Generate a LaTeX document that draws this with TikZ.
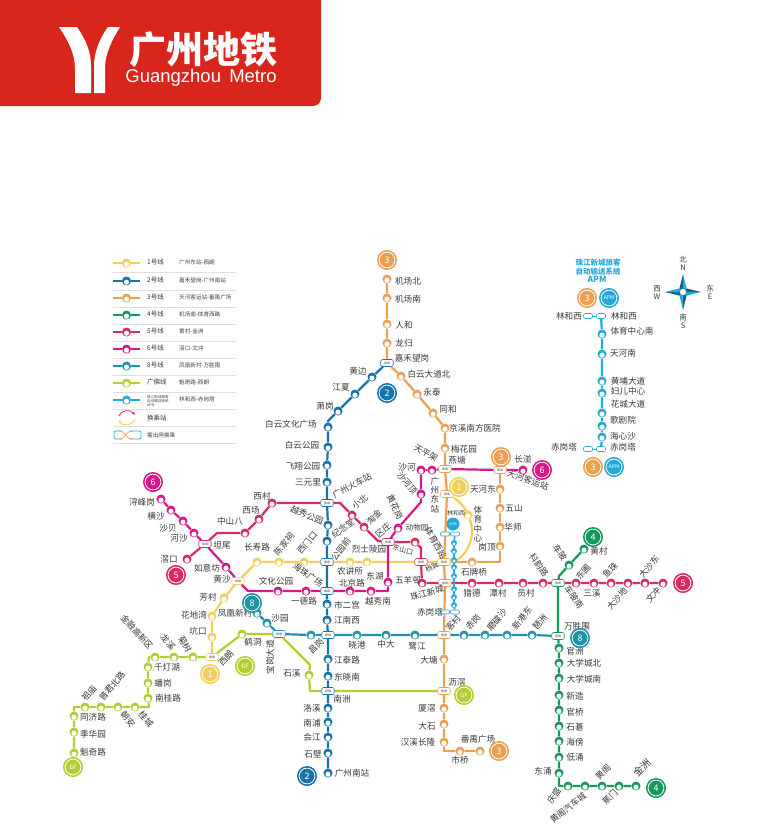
\documentclass[tikz,border=0pt]{standalone}
\usepackage{xcolor}
\usepackage{fontspec}
\setmainfont{Noto Sans CJK SC}
\newfontfamily\latinfont{Liberation Sans}
\usepackage{tikz}
\usetikzlibrary{arrows.meta}
\definecolor{hdred}{RGB}{217,38,28}
\definecolor{lineA}{RGB}{242,207,90}
\definecolor{lineB}{RGB}{21,116,168}
\definecolor{lineC}{RGB}{233,160,82}
\definecolor{lineD}{RGB}{20,154,90}
\definecolor{lineE}{RGB}{214,45,95}
\definecolor{lineF}{RGB}{217,22,138}
\definecolor{lineH}{RGB}{31,147,168}
\definecolor{lineG}{RGB}{181,204,53}
\definecolor{lineP}{RGB}{37,169,214}
\tikzset{
  sta/.style={circle,fill=#1,inner sep=0pt,minimum size=9pt,
    path picture={\fill[white] ([yshift=-1.2pt]path picture bounding box.center) circle (2.6pt);}},
  smallsta/.style={circle,fill=#1,inner sep=0pt,minimum size=6pt,
    path picture={\fill[white] ([yshift=-0.9pt]path picture bounding box.center) circle (1.5pt);}},
  trans/.style={rectangle,rounded corners=2pt,draw=#1,fill=white,line width=0.6pt,inner sep=0pt,
    minimum width=12.5pt,minimum height=7pt,font=\fontsize{3}{3}\selectfont,text=black!70},
  lab/.style={inner sep=0pt,align=center,text=black!78,font=\fontsize{8.6}{9.4}\selectfont},
  badge/.style={circle,fill=#1,inner sep=0pt,minimum size=20pt,text=white,font=\fontsize{9}{9}\selectfont,
    path picture={\draw[white,line width=0.8pt] (path picture bounding box.center) circle (7.9pt);}},
  metro/.style={draw=#1,line width=2.2pt,line join=round},
  legtitle/.style={anchor=west,inner sep=0pt,text=black!80,font=\fontsize{6.5}{7}\selectfont},
  legtext/.style={anchor=west,inner sep=0pt,align=left,text=black!75,font=\fontsize{5.6}{6.6}\selectfont},
  legrule/.style={draw=black!12,line width=0.4pt},
}
% stations of one line: name/x/y/label x/label y/rotation/label
\newcommand{\linestations}[2]{%
  \foreach \id/\x/\y/\tx/\ty/\rot/\txt in {#2} {
    \node[sta=#1] (\id) at (\x,\y) {};
    \node[lab,rotate=\rot] (t\id) at (\tx,\ty) {\txt};
  }}
\begin{document}
\begin{tikzpicture}[x=1pt,y=-1pt]
  \useasboundingbox (0,0) rectangle (775,836);

  % header
  \fill[hdred] (0,0) -- (321,0) {[rounded corners=8pt] -- (321,106)} -- (0,106) -- cycle;
  \fill[white] (59,27) -- (77,27) .. controls (86,40) and (91,52) .. (91,66) -- (91,93) -- (75,93) -- (75,68) .. controls (75,54) and (68,40) .. (59,27) -- cycle;
  \fill[white] (120,27) -- (108,27) .. controls (100,38) and (94,52) .. (94,66) -- (94,93) -- (105,93) -- (105,68) .. controls (105,54) and (112,40) .. (120,27) -- cycle;
  \node[text=white,inner sep=0pt,font=\fontsize{37}{37}\selectfont\bfseries] (title) at (203,50) {广州地铁};
  \node[text=white,inner sep=0pt,font=\latinfont\fontsize{18.5}{18.5}\selectfont] (subtitle) at (201,78) {Guangzhou\, Metro};

  % interchange stations: name/x/y/colour/label x/label y/rotation/label
  \node[trans=lineH] (szb) at (279,634) {换乘};
  \foreach \id/\x/\y/\c/\tx/\ty/\rot/\txt in {
    jhwg/387/363/lineB/412/358/0/嘉禾望岗,
    gzhc/327/503/lineB/352/486/28/广州火车站,
    gyq/327/562/lineB/341/549/52/公园前,
    hzgc/327/591/lineB/308/575/-35/海珠广场,
    cgang/328/635/lineB/316/646/45/昌岗,
    nzhou/328/691/lineB/342/699/0/南洲,
    hsha/238/581/lineA/222/579/0/黄沙,
    twei/205/544/lineE/222/545/0/坦尾,
    xlang/212/657/lineA/226/658/48/西朗,
    yji/421/562/lineE/432/567/25/{\fontsize{7}{8}\selectfont 杨箕},
    tyxl/444/562/lineC/436/543/-60/体育西路,
    zjxc/445/583/lineC/427/593/16/珠江新城,
    kcun/444/635/lineC/453/623/50/客村,
    lijiao/444/691/lineC/457/682/0/沥滘,
    ytang/445/469/lineC/457/460/0/燕塘,
    gzdz/447/494/lineC/435/495/0/{广\\州\\东\\站},
    tkyz/500/470/lineC/528/480/-20/天河客运站,
    qzhuang/388/542/lineE/383/530/40/区庄,
    cpn/558/583/lineD/574/597/-55/车陂南,
    wsw/558/636/lineD/578/626/0/万胜围
  } {
    \node[trans=\c] (\id) at (\x,\y) {换乘};
    \node[lab,rotate=\rot] (t\id) at (\tx,\ty) {\txt};
  }

  % line 3
  \linestations{lineC}{
    jcb/387/279/408/281/0/机场北, jcn/387/298/408/299/0/机场南, rhe/387/324/404/325/0/人和,
    lgui/387/343/404/343/0/龙归, bydb/401/376/429/374/0/白云大道北, ytai/417/394/432/392/0/永泰,
    the/433/413/448/409/0/同和, jxnf/445/428/475/428/0/京溪南方医院, mhy/445/448/464/449/0/梅花园,
    slq/472/562/474/572/0/石牌桥, gding/500/546/487/547/0/岗顶, hshi/500/527/513/527/0/华师,
    wshan/500/508/514/508/0/五山, thd/500/489/483/489/0/天河东,
    dtang/444/659/429/660/0/大塘, xjiao/444/708/427/708/0/厦滘, dshi/444/724/427/726/0/大石,
    hxcl/444/742/418/742/0/汉溪长隆, sqiao/460/751/460/760/0/市桥, pygc/480/751/478/739/0/番禺广场}
  \coordinate (cC1) at (500,562);
  \coordinate (cC2) at (444,751);
  \draw[metro=lineC] (jcb) -- (jcn) -- (rhe) -- (lgui) -- (jhwg) -- (bydb) -- (ytai) -- (the) -- (jxnf) -- (mhy) -- (ytang) -- (gzdz) -- (tyxl) -- (zjxc) -- (kcun) -- (dtang) -- (lijiao) -- (xjiao) -- (dshi) -- (hxcl) -- (cC2) -- (sqiao) -- (pygc);
  \draw[metro=lineC] (tyxl) -- (slq) -- (cC1) -- (gding) -- (hshi) -- (wshan) -- (thd) -- (tkyz);

  % line 2
  \linestations{lineB}{
    hbian/372/377/358/371/0/黄边, jxia/355/394/341/387/0/江夏, xgang/338/411/325/406/0/萧岗,
    bywh/328/427/291/424/0/白云文化广场, bygy/328/447/302/445/0/白云公园, fxgy/327/465/303/466/0/飞翔公园,
    syl/327/482/308/482/0/三元里, yxgy/328/525/307/515/-22/越秀公园, jnt/327/541/343/528/35/纪念堂,
    seg/327/604/347/605/0/市二宫, jnx/327/620/347/620/0/江南西, jtl/328/659/347/660/0/江泰路,
    dxn/328/676/347/677/0/东晓南, lxi/328/708/312/708/0/洛溪, npu/328/722/312/723/0/南浦,
    hjiang/328/737/312/737/0/会江, sbi/328/753/313/754/0/石壁, gznz/328/773/352/773/0/广州南站}
  \coordinate (cB1) at (328,421);
  \draw[metro=lineB] (jhwg) -- (hbian) -- (jxia) -- (xgang) -- (cB1) -- (bywh) -- (bygy) -- (fxgy) -- (syl) -- (gzhc) -- (yxgy) -- (jnt) -- (gyq) -- (hzgc) -- (seg) -- (jnx) -- (cgang) -- (jtl) -- (dxn) -- (nzhou) -- (lxi) -- (npu) -- (hjiang) -- (sbi) -- (gznz);

  % line 1
  \linestations{lineA}{
    kkou/212/637/198/631/0/坑口, hdw/212/616/194/615/0/花地湾, fcun/224/598/208/597/0/芳村,
    csl/257/562/257/547/0/长寿路, cjc/279/562/284/544/50/陈家祠, xmk/304/562/307/543/50/西门口,
    njs/350/562/350/571/0/农讲所, lsly/367/562/369/549/0/烈士陵园, tyzx/468/515/478/524/0/{体\\育\\中\\心}}
  \draw[metro=lineA] (xlang) -- (kkou) -- (hdw) -- (fcun) -- (hsha) -- (csl) -- (cjc) -- (xmk) -- (gyq) -- (njs) -- (lsly) -- (yji) -- (tyxl);
  \draw[metro=lineA] (tyxl) .. controls (462,562) and (478,540) .. (tyzx) .. controls (464,506) and (456,499) .. (gzdz);

  % line 5
  \linestations{lineE}{
    jko/187/559/169/559/0/滘口, zs8/245/533/230/521/0/中山八, xchang/259/519/251/510/0/西场,
    xcun/272/503/262/496/0/西村, xbei/352/515/360/502/40/小北, tjin/364/527/374/517/45/淘金,
    dwy/415/542/417/528/0/{\fontsize{7.5}{8}\selectfont 动物园}, wyc/422/583/408/580/0/五羊邨, lde/472/583/472/593/0/猎德,
    tcun/499/583/498/593/0/潭村, ycun/523/583/526/593/0/员村, kyl/543/583/539/565/-55/科韵路,
    dpu/576/583/583/572/50/东圃, sxi/594/583/592/593/0/三溪, yzhu/611/583/610/570/45/鱼珠,
    dsd/628/583/617/599/50/大沙地, dsdo/645/583/649/567/50/大沙东, wchong/663/583/653/595/50/文冲}
  \coordinate (cE1) at (217,533);
  \coordinate (cE2) at (340,503);
  \coordinate (cE3) at (378,541);
  \coordinate (cE4) at (421,548);
  \draw[metro=lineE] (jko) -- (twei) -- (cE1) -- (zs8) -- (xchang) -- (xcun) -- (gzhc) -- (cE2) -- (xbei) -- (tjin) -- (cE3) -- (qzhuang) -- (dwy) -- (cE4) -- (yji) -- (wyc) -- (zjxc) -- (lde) -- (tcun) -- (ycun) -- (kyl) -- (cpn) -- (dpu) -- (sxi) -- (yzhu) -- (dsd) -- (dsdo) -- (wchong);

  % line 6
  \linestations{lineF}{
    xfg/161/499/142/502/0/浔峰岗, hshaa/171/510/156/516/0/横沙, sbei/183/521/168/528/0/沙贝,
    hshab/194/533/179/538/0/河沙, ryf/226/567/207/568/0/如意坊, whgy/278/591/276/581/0/文化公园,
    ydl/306/591/304/601/0/一德路, bjl/350/591/352/583/0/北京路, yxn/371/591/378/601/0/越秀南,
    dhu/388/582/375/576/0/东湖, hhg/398/528/395/507/-65/黄花岗, shd/421/494/407/483/-50/沙河顶,
    shh/421/470/407/467/0/沙河, tpj/432/470/426/453/-30/天平架, cbn/523/470/523/459/0/长湴}
  \coordinate (cF1) at (248,591);
  \coordinate (cF2) at (388,591);
  \coordinate (cF3) at (421,502);
  \draw[metro=lineF] (xfg) -- (hshaa) -- (sbei) -- (hshab) -- (twei) -- (ryf) -- (hsha) -- (cF1) -- (whgy) -- (ydl) -- (hzgc) -- (bjl) -- (yxn) -- (cF2) -- (dhu) -- (qzhuang) -- (hhg) -- (cF3) -- (shd) -- (shh) -- (tpj) -- (ytang) -- (tkyz) -- (cbn);
  \node[lab,rotate=-15,font=\fontsize{7}{8}\selectfont] (tdsk) at (403,550) {东山口};

  % line 4
  \linestations{lineD}{
    hcun/584/549/599/551/0/黄村, cpi/569/565/560/553/-55/车陂, gzhou/559/648/575/651/0/官洲,
    dxcb/559/663/584/663/0/大学城北, dxcn/559/678/584/679/0/大学城南, xzao/559/695/575/696/0/新造,
    gqiao/559/710/575/712/0/官桥, sqi/559/726/575/727/0/石碁, hbang/559/741/575/742/0/海傍,
    dyong/559/757/575/757/0/低涌, dchong/559/773/543/771/0/东涌, qsheng/568/786/554/796/55/庆盛,
    hgqc/585/786/568/808/38/黄阁汽车城, hge/602/786/603/772/45/黄阁, jmen/619/786/610/797/45/蕉门,
    jzhou/636/786/642/768/45/{\fontsize{10}{11}\selectfont 金洲}}
  \coordinate (cD1) at (559,576);
  \coordinate (cD2) at (559,786);
  \draw[metro=lineD] (hcun) -- (cpi) -- (cD1) -- (cpn) -- (wsw) -- (gzhou) -- (dxcb) -- (dxcn) -- (xzao) -- (gqiao) -- (sqi) -- (hbang) -- (dyong) -- (dchong) -- (cD2) -- (qsheng) -- (hgqc) -- (hge) -- (jmen) -- (jzhou);

  % line 8
  \linestations{lineH}{
    fhxc/257/613/235/613/0/凤凰新村, syuan/267/623/280/618/0/沙园, bgdd/311/635/270/657/90/宝岗大道,
    xgan/357/635/357/645/0/晓港, zda/386/635/386/644/0/中大, ljiang/415/635/417/646/0/鹭江,
    cgan/464/635/473/622/50/赤岗, mds/485/635/497/620/50/磨碟沙, xgd/507/635/522/618/50/新港东,
    pzhou/532/635/540/622/50/琶洲}
  \draw[metro=lineH] (fhxc) -- (syuan) -- (szb) -- (bgdd) -- (cgang) -- (xgan) -- (zda) -- (ljiang) -- (kcun) -- (cgan) -- (mds) -- (xgd) -- (pzhou) -- (wsw);

  % guangfo line
  \linestations{lineG}{
    kql/74/753/93/752/0/魁奇路, jhy/74/732/93/734/0/季华园, tjl/74/716/93/717/0/同济路,
    zmiao/85/707/89/693/50/祖庙, pjbl/101/707/112/686/50/普君北路, cao/118/707/128/719/-50/朝安,
    gcheng/135/707/146/719/-50/桂城, ngl/148/698/168/698/0/南桂路, pgang/148/683/163/683/0/蟠岗,
    qdh/148/667/167/667/0/千灯湖, jrgx/155/657/137/632/-48/金融高新区, lxiao/174/657/168/642/-50/龙溪,
    jshu/193/657/185/644/-60/菊树, hdong/242/634/253/642/0/鹤洞, sxia/309/675/292/673/0/石溪}
  \coordinate (cG1) at (74,707);
  \coordinate (cG2) at (149,707);
  \coordinate (cG3) at (149,657);
  \coordinate (cG4) at (310,665);
  \coordinate (cG5) at (310,691);
  \draw[metro=lineG] (kql) -- (jhy) -- (tjl) -- (cG1) -- (zmiao) -- (pjbl) -- (cao) -- (gcheng) -- (cG2) -- (ngl) -- (pgang) -- (qdh) -- (cG3) -- (jrgx) -- (lxiao) -- (jshu) -- (xlang) -- (hdong) -- (szb) -- (cG4) -- (sxia) -- (cG5) -- (nzhou) -- (lijiao);

  % apm, small one on the map
  \foreach \id/\x/\y in {lhxa/445/534, lhxb/455/534, cgta/445/612, cgtb/455/612}
    \node[trans=lineP,minimum width=9.5pt,minimum height=4pt] (\id) at (\x,\y) {};
  \node[lab,font=\fontsize{6}{7}\selectfont] (tlhxa) at (456,513) {林和西};
  \node[lab] (tcgta) at (430,612) {赤岗塔};
  \foreach \i/\y in {1/543,2/551,3/560,4/567,5/576,6/589,7/597,8/605}
    \node[smallsta=lineP] (aps\i) at (454,\y) {};
  \draw[metro=lineP,line width=1.6pt] (lhxb) -- (aps1) -- (aps2) -- (aps3) -- (aps4) -- (aps5) -- (aps6) -- (aps7) -- (aps8) -- (cgtb);

  % apm, right part
  \node[trans=lineP,minimum width=9pt,minimum height=5pt] (lhxc) at (588,316) {};
  \node[trans=lineP,minimum width=9pt,minimum height=5pt] (lhxd) at (601,316) {};
  \node[trans=lineP,minimum width=9pt,minimum height=5pt] (cgtc) at (588,449) {};
  \node[trans=lineP,minimum width=9pt,minimum height=5pt] (cgtd) at (601,449) {};
  \node[lab] (tlhxc) at (569,316) {林和西};
  \node[lab] (tlhxd) at (624,316) {林和西};
  \node[lab] (tcgtc) at (564,447) {赤岗塔};
  \node[lab] (tcgtd) at (623,447) {赤岗塔};
  \linestations{lineP}{
    tyzxn/602/334/632/331/0/体育中心南, thn/602/354/623/353/0/天河南, hpdd/602/381/628/381/0/黄埔大道,
    fezx/602/393/628/391/0/妇儿中心, hcdd/602/413/628/404/0/花城大道, gjy/602/426/623/420/0/歌剧院,
    hxs/602/437/623/436/0/海心沙}
  \draw[metro=lineP] (lhxd) -- (tyzxn) -- (thn) -- (hpdd) -- (fezx) -- (hcdd) -- (gjy) -- (hxs) -- (cgtd);
  \draw[draw=lineP,line width=0.6pt] (lhxc) -- (lhxd);
  \draw[draw=lineP,line width=0.6pt] (cgtc) -- (cgtd);
  \node[lab,text=lineP,font=\fontsize{7.5}{8.4}\selectfont\bfseries] (apmtitle) at (598,267) {珠江新城旅客\\自动输送系统};
  \node[lab,text=lineP,font=\fontsize{8.5}{9}\selectfont\bfseries] (apmname) at (597,279) {APM};

  % badges
  \foreach \id/\x/\y/\c/\txt in {
    bca/387/260/lineC/3, bcb/501/457/lineC/3, bcc/499/751/lineC/3, bcd/587/298/lineC/3, bce/593/467/lineC/3,
    bba/387/393/lineB/2, bbb/307/776/lineB/2,
    baa/210/674/lineA/1, bab/459/487/lineA/1,
    bea/176/575/lineE/5, beb/683/583/lineE/5,
    bfa/153/482/lineF/6, bfb/542/470/lineF/6,
    bda/593/537/lineD/4, bdb/656/788/lineD/4,
    bha/252/603/lineH/8, bhb/580/638/lineH/8}
    \node[badge=\c] (\id) at (\x,\y) {\txt};
  \foreach \id/\x/\y in {bga/73/767, bgb/245/666, bgc/464/695}
    \node[badge=lineG,font=\fontsize{6}{6}\selectfont] (\id) at (\x,\y) {GF};
  \foreach \id/\x/\y in {bpa/609/298, bpb/614/467}
    \node[badge=lineP,font=\fontsize{5}{5}\selectfont] (\id) at (\x,\y) {APM};
  \node[badge=lineP,minimum size=13pt,font=\fontsize{3.5}{4}\selectfont] (bpc) at (453,524) {APM};

  % legend
  \foreach \i/\y/\c/\nm/\desc in {
    1/263/lineA/1号线/广州东站-西朗, 2/281/lineB/2号线/嘉禾望岗-广州南站,
    3/298/lineC/3号线/天河客运站-番禺广场, 4/315/lineD/4号线/机场南-体育西路,
    5/332/lineE/5号线/黄村-金洲, 6/349/lineF/6号线/滘口-文冲,
    7/366/lineH/8号线/凤凰新村-万胜围, 8/383/lineG/广佛线/魁奇路-西朗} {
    \coordinate (lega\i) at (113,\y);
    \coordinate (legb\i) at (140,\y);
    \node[sta=\c] (legs\i) at (126.5,\y) {};
    \draw[metro=\c] (lega\i) -- (legs\i) -- (legb\i);
    \node[legtitle] (legn\i) at (147,\y-1) {\nm};
    \node[legtext] (legd\i) at (179,\y-1) {\desc};
    \draw[legrule] (113,\y+9) -- (236,\y+9);
  }
  \coordinate (lega9) at (113,400);
  \coordinate (legb9) at (140,400);
  \node[sta=lineP] (legs9) at (126.5,400) {};
  \draw[metro=lineP] (lega9) -- (legs9) -- (legb9);
  \node[legtext,font=\fontsize{3.6}{4.3}\selectfont] (legn9) at (147,401) {珠江新城旅客\\自动输送系统\\APM};
  \node[legtext] (legd9) at (179,399) {林和西-赤岗塔};
  \draw[legrule] (113,409) -- (236,409);
  % transfer icons
  \draw[draw=lineE,line width=0.8pt,-{Latex[length=3pt,width=3pt]}] (119,416) .. controls (121,410) and (130,409) .. (135,415);
  \draw[draw=lineA,line width=0.8pt,-{Latex[length=3pt,width=3pt]}] (135,420) .. controls (132,426) and (122,426) .. (119,420);
  \node[legtitle] (legn10) at (147,418) {换乘站};
  \draw[legrule] (113,426) -- (236,426);
  \draw[draw=lineP,line width=0.7pt,rounded corners=2pt] (122,431) -- (114,431) -- (114,439) -- (122,439);
  \draw[draw=lineC,line width=0.7pt] (119,431) .. controls (126,431) and (125,439) .. (133,439);
  \draw[draw=lineC,line width=0.7pt] (119,439) .. controls (126,439) and (125,431) .. (133,431);
  \draw[draw=lineP,line width=0.7pt,rounded corners=2pt] (130,431) -- (141,431) -- (141,439) -- (130,439);
  \node[legtext] (legn11) at (147,435) {需出闸换乘};
  \draw[legrule] (113,443) -- (236,443);

  % compass
  \foreach \r in {0,90,180,270} {
    \begin{scope}[shift={(683,292)},rotate=\r]
      \fill[lineB!85!black] (0,0) -- (0,-18) -- (-3.6,-3.6) -- cycle;
      \fill[lineP] (0,0) -- (0,-18) -- (3.6,-3.6) -- cycle;
    \end{scope}
  }
  \node[circle,fill=white,draw=lineB,line width=0.5pt,inner sep=0pt,minimum size=7pt] (cmp) at (683,292) {};
  \foreach \id/\x/\y/\txt in {nz/683/260/北, nl/683/268/N, sz/683/318/南, sl/683/326/S, wz/657/289/西, wl/657/297/W, ez/710/289/东, el/710/297/E}
    \node[lab,font=\fontsize{7.5}{8}\selectfont] (\id) at (\x,\y) {\txt};
\end{tikzpicture}
\end{document}
